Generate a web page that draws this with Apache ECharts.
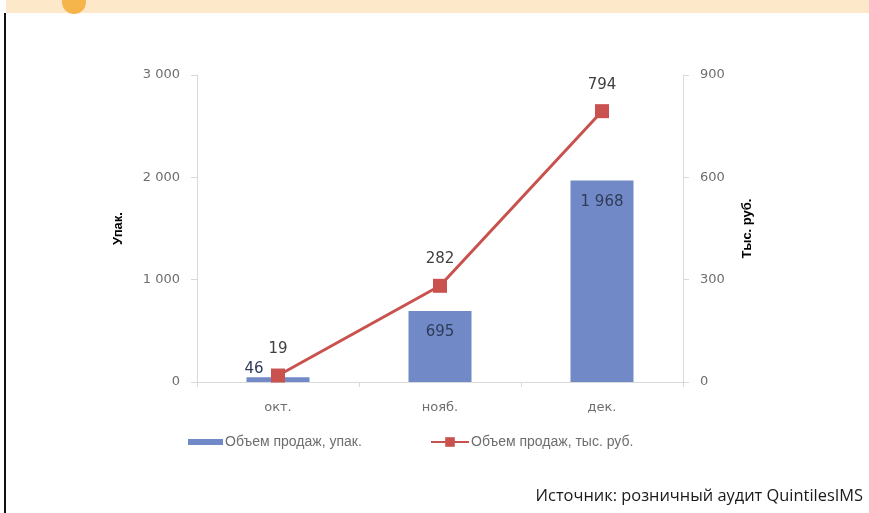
<!DOCTYPE html>
<html>
<head>
<meta charset="utf-8">
<script src="https://cdn.jsdelivr.net/npm/echarts@6/dist/echarts.min.js"></script>
<style>
  html, body { margin: 0; padding: 0; background: #ffffff; }
  #chart { width: 869px; height: 513px; }
</style>
</head>
<body>
<div id="chart"></div>
<script>
// Months on the category axis
const months = ['окт.', 'нояб.', 'дек.'];
// Sales volume, packs (left axis)
const packs = [46, 695, 1968];
// Sales volume, thousand roubles (right axis)
const roubles = [19, 282, 794];
// Axis ranges and steps
const packsTicks = { min: 0, max: 3000, step: 1000 };
const roublesTicks = { min: 0, max: 900, step: 300 };

const seriesNames = ['Объем продаж, упак.', 'Объем продаж, тыс. руб.'];

const chart = echarts.init(document.getElementById('chart'), null, { renderer: 'canvas' });

const axisGray = '#d9d9d9';
const labelGray = '#6e6e6e';
const tickFont = 'DejaVu Sans, Verdana, sans-serif';
const legendFont = 'Liberation Sans, Arial, sans-serif';

const fmtThousands = v => String(v).replace(/\B(?=(\d{3})+(?!\d))/g, ' ');

chart.setOption({
  animation: false,
  backgroundColor: '#ffffff',
  grid: { left: 197, right: 186, top: 75, bottom: 131, containLabel: false },
  xAxis: {
    type: 'category',
    data: months,
    boundaryGap: true,
    axisLine: { show: true, lineStyle: { color: axisGray, width: 1 } },
    axisTick: { show: true, alignWithLabel: false, length: 5, lineStyle: { color: axisGray } },
    axisLabel: { color: labelGray, fontFamily: tickFont, fontSize: 13, margin: 19 },
    splitLine: { show: false }
  },
  yAxis: [
    {
      type: 'value',
      position: 'left',
      min: packsTicks.min, max: packsTicks.max, interval: packsTicks.step,
      name: 'Упак.',
      nameLocation: 'middle',
      nameRotate: 90,
      nameGap: 72,
      nameTextStyle: { color: '#000000', fontWeight: 'bold', fontSize: 13, fontFamily: legendFont },
      axisLine: { show: true, lineStyle: { color: axisGray } },
      axisTick: { show: true, length: 6, lineStyle: { color: axisGray } },
      axisLabel: { color: labelGray, fontFamily: tickFont, fontSize: 13, margin: 17, formatter: fmtThousands },
      splitLine: { show: false }
    },
    {
      type: 'value',
      position: 'right',
      min: roublesTicks.min, max: roublesTicks.max, interval: roublesTicks.step,
      name: 'Тыс. руб.',
      nameLocation: 'middle',
      nameRotate: 90,
      nameGap: 58,
      nameTextStyle: { color: '#000000', fontWeight: 'bold', fontSize: 13, fontFamily: legendFont },
      axisLine: { show: true, lineStyle: { color: axisGray } },
      axisTick: { show: true, length: 6, lineStyle: { color: axisGray } },
      axisLabel: { color: labelGray, fontFamily: tickFont, fontSize: 13, margin: 17 },
      splitLine: { show: false }
    }
  ],
  legend: [
    {
      data: [seriesNames[0]],
      left: 183, top: 430,
      itemWidth: 35, itemHeight: 6,
      icon: 'rect',
      textStyle: { color: labelGray, fontFamily: legendFont, fontSize: 14, padding: [0, 0, 0, -3] }
    },
    {
      data: [seriesNames[1]],
      left: 425, top: 430,
      itemWidth: 38, itemHeight: 12,
      textStyle: { color: labelGray, fontFamily: legendFont, fontSize: 14, padding: [0, 0, 0, -3] }
    }
  ],
  series: [
    {
      name: seriesNames[0],
      type: 'bar',
      yAxisIndex: 0,
      data: packs.map((v, i) => i === 0
        ? { value: v, label: { position: 'top', distance: 1, offset: [-24, 0] } }
        : { value: v }),
      barWidth: 63,
      itemStyle: { color: '#7189c6' },
      label: {
        show: true,
        position: 'insideTop',
        distance: 14,
        color: '#2f3b58',
        fontFamily: tickFont,
        fontSize: 15,
        formatter: p => fmtThousands(p.value)
      },
      z: 2
    },
    {
      name: seriesNames[1],
      type: 'line',
      yAxisIndex: 1,
      data: roubles,
      symbol: 'rect',
      symbolSize: 14,
      lineStyle: { color: '#c9524e', width: 3 },
      itemStyle: { color: '#c9524e' },
      label: {
        show: true,
        position: 'top',
        distance: 12,
        color: '#404040',
        fontFamily: tickFont,
        fontSize: 15
      },
      z: 3
    }
  ],
  graphic: [
    // header strip
    { type: 'rect', shape: { x: 6, y: 0, width: 863, height: 13 }, style: { fill: '#fde9c9' }, z: 10 },
    // badge circle
    { type: 'circle', shape: { cx: 74, cy: 2, r: 12 }, style: { fill: '#f5b54b' }, z: 11 },
    // left frame line
    { type: 'rect', shape: { x: 4, y: 13, width: 2, height: 500 }, style: { fill: '#111111' }, z: 10 },
    // source note
    {
      type: 'text',
      right: 6,
      top: 488,
      style: {
        text: 'Источник: розничный аудит QuintilesIMS',
        fill: '#1a1a1a',
        fontFamily: 'Open Sans, sans-serif',
        fontSize: 16.4
      },
      z: 10
    }
  ]
});
</script>
</body>
</html>
